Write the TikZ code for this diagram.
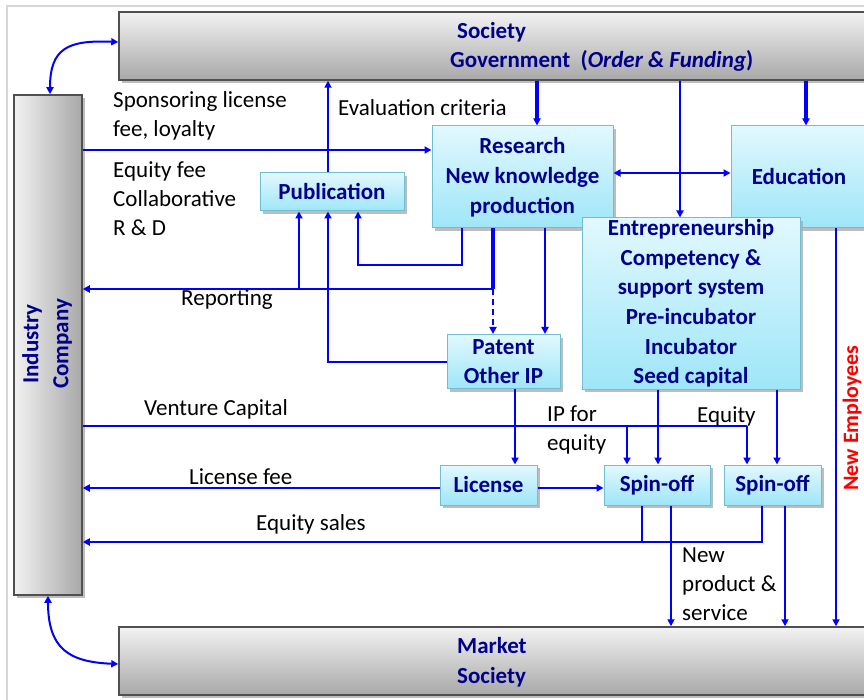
\documentclass[tikz,border=0pt]{standalone}
\usepackage{fontspec}
\setmainfont{Carlito}
\usetikzlibrary{arrows.meta,shadows,calc}
\definecolor{navy}{RGB}{0,0,140}
\definecolor{lineblue}{RGB}{0,0,255}
\definecolor{framegray}{RGB}{215,215,215}
\definecolor{graytop}{RGB}{242,242,242}
\definecolor{graybot}{RGB}{168,168,168}
\definecolor{grayedge}{RGB}{80,80,80}
\definecolor{cyantop}{RGB}{226,248,254}
\definecolor{cyanbot}{RGB}{158,230,248}
\definecolor{cyanedge}{RGB}{110,190,212}
\definecolor{redtext}{RGB}{255,0,0}
\tikzset{
  shad/.style={drop shadow={shadow xshift=3pt,shadow yshift=-3pt,fill=gray!65,opacity=0.8}},
  graybox/.style={draw=grayedge, line width=1.5pt, top color=graytop, bottom color=graybot, shad, inner sep=0pt},
  cyanbox/.style={draw=cyanedge, line width=1pt, top color=cyantop, bottom color=cyanbot, shad, inner sep=0pt,
    font=\bfseries\fontsize{23}{30}\selectfont, text=navy, align=center},
  boxtext/.style={font=\bfseries\fontsize{23}{30}\selectfont, text=navy, align=left, inner sep=0pt},
  lbl/.style={font=\fontsize{23}{29}\selectfont, align=left, inner sep=0pt, anchor=west},
  wire/.style={draw=lineblue, line width=2pt},
  thickwire/.style={draw=lineblue, line width=3.5pt},
  conn/.style={wire, -{Triangle[length=7pt,width=7pt]}},
  thickconn/.style={thickwire, -{Triangle[length=7pt,width=7pt]}},
  dconn/.style={wire, {Triangle[length=7pt,width=7pt]}-{Triangle[length=7pt,width=7pt]}}
}
\begin{document}
\begin{tikzpicture}[x=1pt,y=-1pt]
\useasboundingbox (0,0) rectangle (864,700);
\draw[framegray, line width=2pt] (7,6) rectangle (900,720);

% gray boxes
\node[graybox, minimum width=800pt, minimum height=68pt] (soc) at (519,46) {};
\node[graybox, minimum width=800pt, minimum height=68pt] (mkt) at (519,661) {};
\node[draw=grayedge, line width=1.5pt, left color=graytop, right color=graybot, shad, inner sep=0pt,
      minimum width=68pt, minimum height=500pt] (ind) at (48,345) {};

\node[boxtext, anchor=west] (soct) at (457,32) {Society};
\node[boxtext, anchor=west] (govt) at (450,61) {Government~~(\textit{Order \& Funding})};
\node[boxtext, anchor=west] (mktt) at (457,662) {Market\\Society};
\node[boxtext, align=center, rotate=90] (indt) at (47,344) {Industry\\Company};

% cyan boxes
\node[cyanbox, minimum width=181pt, minimum height=102pt] (res) at (522.5,177) {Research\\New knowledge\\production};
\node[cyanbox, minimum width=169pt, minimum height=102pt] (edu) at (815.5,177) {};
\node[boxtext] (edut) at (799,177) {Education};
\node[cyanbox, minimum width=218pt, minimum height=171pt, font=\bfseries\fontsize{23}{29.6}\selectfont] (ent) at (691,303.5)
  {Entrepreneurship\\Competency \&\\support system\\Pre-incubator\\Incubator\\Seed capital};
\node[cyanbox, minimum width=144pt, minimum height=38pt] (pub) at (332,192) {Publication};
\node[cyanbox, minimum width=113pt, minimum height=54pt, font=\bfseries\fontsize{23}{29}\selectfont] (pat) at (503.5,361.5) {Patent\\Other IP};
\node[cyanbox, minimum width=97pt, minimum height=40pt] (lic) at (488.5,485) {License};
\node[cyanbox, minimum width=106pt, minimum height=40pt] (sp1) at (657,485) {Spin-off};
\node[cyanbox, minimum width=97pt, minimum height=40pt] (sp2) at (772.5,485) {Spin-off};

% curved links
\draw[dconn] (ind.north -| 50,0) .. controls (50,48) and (68,40) .. (soc.west |- 0,42);
\draw[dconn] (ind.south -| 48,0) .. controls (48,648) and (68,662) .. (mkt.west |- 0,664);

% government arrows
\draw[thickconn] (soc.south -| 537,0) -- (res.north -| 537,0);
\draw[conn] (soc.south -| 680,0) -- (ent.north -| 680,0);
\draw[thickconn] (soc.south -| 806,0) -- (edu.north -| 806,0);
\draw[dconn] (res.east |- 0,173) -- (edu.west |- 0,173);

% sponsoring
\draw[conn] (ind.east |- 0,150) -- (res.west |- 0,150);

% evaluation / publication
\draw[conn] (pub.north -| 328,0) -- (soc.south -| 328,0);
\draw[conn] (pat.west) -| (pub.south -| 328,0);

% research outputs
\coordinate (rep) at (493,289);
\draw[thickwire] (res.south -| 493,0) -- (rep);
\draw[conn] (rep) -- (ind.east |- 0,289);
\draw[conn] (299,289) -- (pub.south -| 299,0);
\draw[conn, dash pattern=on 6pt off 4pt] (rep) -- (pat.north -| 493,0);
\draw[conn] (res.south -| 462,0) -- (462,265) -| (pub.south -| 358,0);
\draw[conn] (res.south -| 545,0) -- (pat.north -| 545,0);

% patent -> license -> spin-off
\draw[conn] (pat.south -| 515,0) -- (lic.north -| 515,0);
\draw[conn] (lic.east |- 0,488) -- (sp1.west |- 0,488);
\draw[conn] (lic.west |- 0,488) -- (ind.east |- 0,488);

% venture capital
\draw[wire, line width=2.6pt] (ind.east |- 0,426) -- (747,426);
\draw[conn] (747,426) -- (sp2.north -| 747,0);
\draw[conn] (627,426) -- (sp1.north -| 627,0);
\draw[conn] (ent.south -| 658,0) -- (sp1.north -| 658,0);
\draw[conn] (ent.south -| 777,0) -- (sp2.north -| 777,0);

% equity sales
\draw[wire, line width=2.6pt] (sp1.south -| 642,0) -- (642,542);
\draw[wire, line width=2.6pt] (sp2.south -| 762,0) -- (762,542) -- (642,542);
\draw[conn, line width=2.6pt] (642,542) -- (ind.east |- 0,542);

% to market
\draw[conn] (sp1.south -| 671,0) -- (mkt.north -| 671,0);
\draw[conn] (sp2.south -| 785,0) -- (mkt.north -| 785,0);
\draw[conn] (edu.south -| 836,0) -- (mkt.north -| 836,0);

% labels
\node[lbl] (l1) at (113,116) {Sponsoring license\\fee, loyalty};
\node[lbl] (l2) at (113,199) {Equity fee\\Collaborative\\R \& D};
\node[lbl] (l3) at (338,108) {Evaluation criteria};
\node[lbl] (l4) at (181,300) {Reporting};
\node[lbl] (l5) at (144,409) {Venture Capital};
\node[lbl] (l6) at (189,477) {License fee};
\node[lbl] (l7) at (256,524) {Equity sales};
\node[lbl] (l8) at (547,430) {IP for\\equity};
\node[lbl] (l9) at (697,416) {Equity};
\node[lbl] (l10) at (682,584) {New\\product \&\\service};
\node[font=\bfseries\fontsize{22}{29}\selectfont, text=redtext, rotate=90, inner sep=0pt] (newemp) at (852,418) {New Employees};
\end{tikzpicture}
\end{document}
